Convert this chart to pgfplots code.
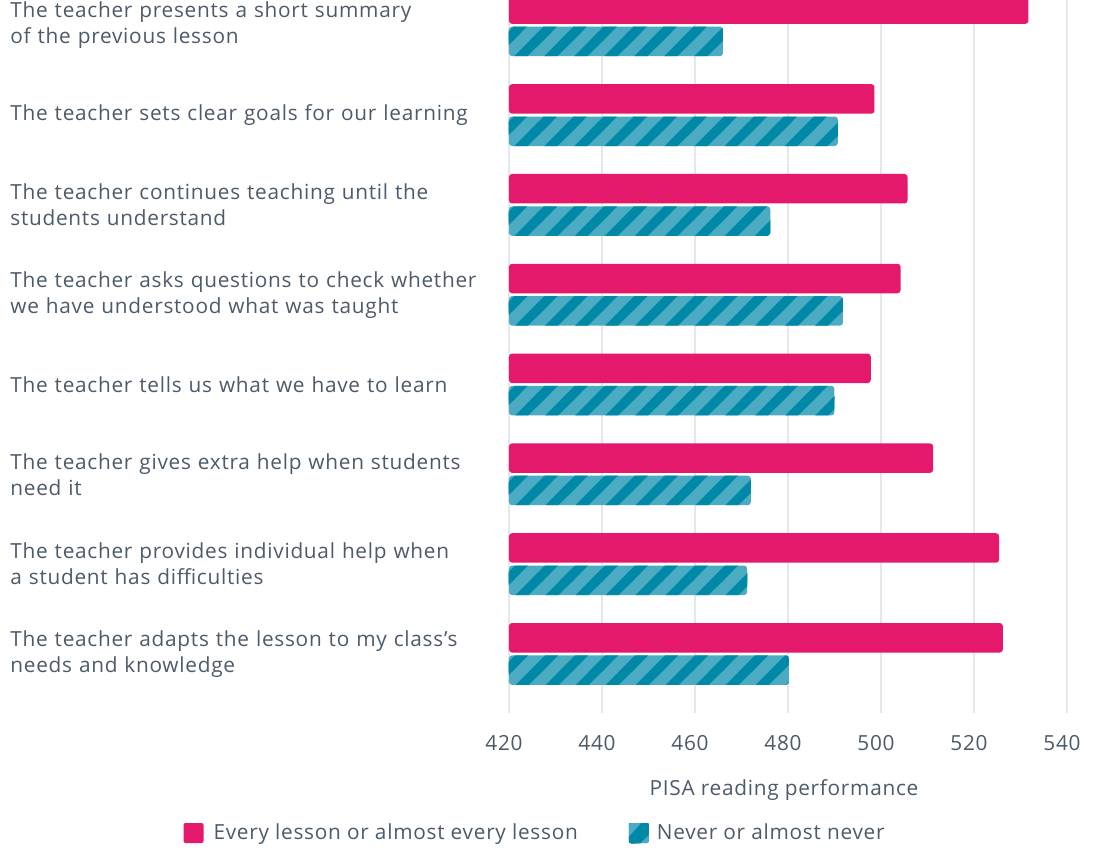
\documentclass[border=0pt]{standalone}
\usepackage{pgfplots}
\pgfplotsset{compat=1.18}
\usepackage{fontspec}
\setmainfont{Open Sans}[LetterSpace=3.5]
\usetikzlibrary{patterns}
\definecolor{pinkc}{HTML}{E5196C}
\definecolor{teallight}{HTML}{4BABC3}
\definecolor{tealdark}{HTML}{0089A6}
\definecolor{gridc}{HTML}{E4E8EC}
\definecolor{textc}{HTML}{4C5A69}
\pgfdeclarepatternformonly{tealstripes}{\pgfqpoint{-2pt}{-2pt}}{\pgfqpoint{17pt}{17pt}}{\pgfqpoint{15pt}{15pt}}{%
  \pgfsetlinewidth{4.6pt}%
  \pgfpathmoveto{\pgfqpoint{-4pt}{-4pt}}%
  \pgfpathlineto{\pgfqpoint{19pt}{19pt}}%
  \pgfpathmoveto{\pgfqpoint{-4pt}{11pt}}%
  \pgfpathlineto{\pgfqpoint{4pt}{19pt}}%
  \pgfpathmoveto{\pgfqpoint{11pt}{-4pt}}%
  \pgfpathlineto{\pgfqpoint{19pt}{4pt}}%
  \pgfusepath{stroke}}
\begin{document}
\begin{tikzpicture}
\useasboundingbox (-254.5pt,-67pt) rectangle (296.5pt,356.5pt);
\begin{axis}[
  at={(0,0)}, anchor=south west,
  scale only axis, width=279pt, height=356.5pt,
  xmin=420, xmax=540,
  ymin=-0.2817, ymax=7.658, y dir=reverse,
  axis line style={draw=none},
  tick style={draw=none},
  major tick length=0pt,
  xtick={420,440,...,540},
  ytick={0,...,7},
  yticklabels={
    {The teacher presents a short summary\\of the previous lesson},
    {The teacher sets clear goals for our learning},
    {The teacher continues teaching until the\\students understand},
    {The teacher asks questions to check whether\\we have understood what was taught},
    {The teacher tells us what we have to learn},
    {The teacher gives extra help when students\\need it},
    {The teacher provides individual help when\\a student has difficulties},
    {The teacher adapts the lesson to my class's\\needs and knowledge}},
  yticklabel style={anchor=west, align=left, text width=250pt, inner sep=0pt,
    xshift=-249.5pt, font=\fontsize{10.4}{13}\selectfont, text=textc},
  xticklabel style={anchor=base, inner sep=0pt, yshift=-18.5pt, xshift=-2.5pt,
    font=\fontsize{10.4}{13}\selectfont, text=textc},
  /pgf/number format/assume math mode=true,
  /pgf/number format/1000 sep={},
  xmajorgrids,
  grid style={color=gridc, line width=1pt},
  xlabel={PISA reading performance},
  xlabel style={at={(axis description cs:0.5,0)}, anchor=base, inner sep=0pt,
    yshift=-41pt, xshift=-2pt, font=\fontsize{10.4}{13}\selectfont, text=textc},
  legend style={at={(axis description cs:-0.584,-0.1683)}, anchor=west,
    draw=none, fill=none, inner sep=0pt, legend columns=2,
    nodes={inner sep=0pt, text=textc, font=\fontsize{10.4}{13}\selectfont},
    /tikz/every even column/.append style={column sep=25.5pt}},
  legend cell align=left,
]
\addplot[xbar, bar width=0.3285, bar shift=-0.180, fill=pinkc, draw=none,
  rounded corners=1.5pt,
  legend image code/.code={\fill[pinkc, rounded corners=1pt] (0pt,-5pt) rectangle (10pt,5pt); \path (15pt,0pt);}]
  coordinates {(531.7,0) (498.6,1) (505.7,2) (504.2,3) (497.8,4) (511.2,5) (525.4,6) (526.2,7)};
\addlegendentry{Every lesson or almost every lesson}
\addplot[xbar, bar width=0.3285, bar shift=0.180, fill=teallight, draw=none,
  rounded corners=1.5pt,
  postaction={pattern=tealstripes, pattern color=tealdark},
  legend image code/.code={\fill[teallight, rounded corners=1pt] (0pt,-5pt) rectangle (10pt,5pt);
    \begin{scope}\clip[rounded corners=1pt] (0pt,-5pt) rectangle (10pt,5pt);
    \fill[tealdark] (-1pt,-6pt) -- (3pt,-6pt) -- (12pt,4pt) -- (12pt,7pt) -- (8pt,7pt) -- (-1pt,-3pt) -- cycle;
    \end{scope}
    \path (14pt,0pt);}]
  coordinates {(466.0,0) (490.7,1) (476.2,2) (491.8,3) (490.0,4) (472.0,5) (471.2,6) (480.2,7)};
\addlegendentry{Never or almost never}
\end{axis}
\end{tikzpicture}
\end{document}
